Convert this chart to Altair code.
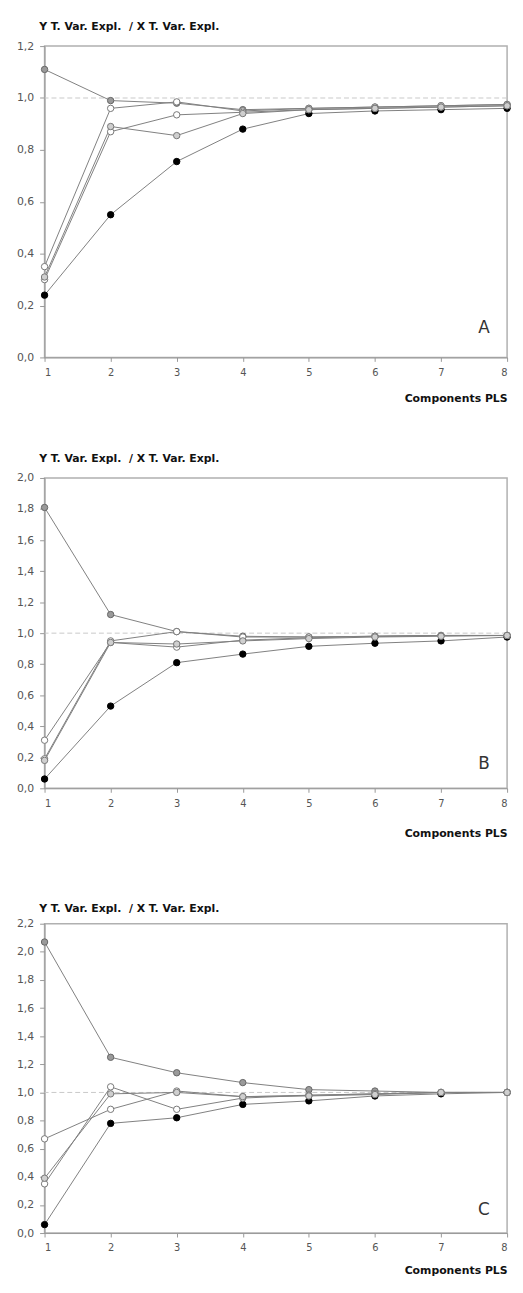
import altair as alt
import pandas as pd

comps = [1, 2, 3, 4, 5, 6, 7, 8]
series_names = ["s1", "s2", "s3", "s4", "s5"]

# Panel A
A_s1 = [0.24, 0.55, 0.755, 0.88, 0.94, 0.95, 0.955, 0.96]
A_s2 = [1.11, 0.99, 0.98, 0.955, 0.96, 0.965, 0.97, 0.975]
A_s3 = [0.35, 0.96, 0.985, 0.95, 0.96, 0.965, 0.97, 0.975]
A_s4 = [0.30, 0.87, 0.935, 0.945, 0.955, 0.96, 0.965, 0.97]
A_s5 = [0.31, 0.89, 0.855, 0.94, 0.955, 0.96, 0.965, 0.97]

# Panel B
B_s1 = [0.06, 0.53, 0.81, 0.865, 0.915, 0.935, 0.95, 0.975]
B_s2 = [1.81, 1.12, 1.01, 0.98, 0.975, 0.98, 0.985, 0.985]
B_s3 = [0.31, 0.94, 0.91, 0.955, 0.97, 0.98, 0.985, 0.985]
B_s4 = [0.19, 0.95, 1.01, 0.975, 0.975, 0.98, 0.985, 0.985]
B_s5 = [0.18, 0.94, 0.93, 0.95, 0.965, 0.975, 0.98, 0.985]

# Panel C
C_s1 = [0.06, 0.78, 0.82, 0.915, 0.94, 0.975, 0.99, 1.0]
C_s2 = [2.07, 1.25, 1.14, 1.07, 1.02, 1.01, 1.0, 1.0]
C_s3 = [0.67, 0.88, 1.01, 0.97, 0.98, 0.99, 1.0, 1.0]
C_s4 = [0.35, 1.04, 0.88, 0.96, 0.98, 0.99, 1.0, 1.0]
C_s5 = [0.39, 0.99, 1.0, 0.97, 0.975, 0.985, 1.0, 1.0]

fills = ["#000000", "#9a9a9a", "#ffffff", "#ffffff", "#cfcfcf"]
strokes = ["#000000", "#666666", "#777777", "#777777", "#777777"]

y_title = "Y T. Var. Expl.\u00a0 / X T. Var. Expl."
x_title = "Components PLS"
FONT = "DejaVu Sans"


def make_df(lists):
    rows = []
    for name, vals in zip(series_names, lists):
        for c, v in zip(comps, vals):
            rows.append({"comp": c, "val": v, "series": name})
    return pd.DataFrame(rows)


def panel(lists, ymax, height, letter, letter_y, title_y, x_title_pad):
    df = make_df(lists)
    nt = int(round(ymax / 0.2)) + 1
    yvals = [round(i * 0.2, 1) for i in range(nt)]
    xs = alt.X("comp:Q", scale=alt.Scale(domain=[1, 8], nice=False),
               axis=alt.Axis(values=comps, format="d", title=x_title, titleAnchor="end",
                             titleFont=FONT, titleFontSize=11, titleFontWeight="bold",
                             titleColor="#111", titlePadding=x_title_pad,
                             labelFont=FONT, labelFontSize=10, labelColor="#555",
                             labelPadding=6, grid=False, domainColor="#999",
                             tickColor="#999", tickSize=4, labelOverlap=False))
    ys = alt.Y("val:Q", scale=alt.Scale(domain=[0, ymax], nice=False, zero=True),
               axis=alt.Axis(values=yvals, title=y_title, titleAngle=0,
                             titleAlign="left", titleBaseline="middle",
                             titleX=-6, titleY=title_y,
                             titleFont=FONT, titleFontSize=11, titleFontWeight="bold",
                             titleColor="#111",
                             labelExpr="replace(format(datum.value, '.1f'), '.', ',')",
                             labelFont=FONT, labelFontSize=11, labelColor="#555",
                             labelPadding=6, grid=False, domainColor="#999",
                             tickColor="#999", tickSize=5, labelOverlap=False))
    base = alt.Chart(df)
    ref = alt.Chart(pd.DataFrame({"val": [1.0]})).mark_rule(
        color="#c8c8c8", strokeDash=[5, 3], strokeWidth=1).encode(y=ys)
    lines = base.mark_line(color="#808080", strokeWidth=1).encode(
        x=xs, y=ys, detail="series:N", order="comp:Q")
    pts = base.mark_point(filled=True, size=42, shape="circle", strokeWidth=1, opacity=1).encode(
        x=xs, y=ys,
        fill=alt.Fill("series:N", scale=alt.Scale(domain=series_names, range=fills), legend=None),
        stroke=alt.Stroke("series:N", scale=alt.Scale(domain=series_names, range=strokes), legend=None),
    )
    lab = alt.Chart(pd.DataFrame({"comp": [7.65], "val": [letter_y], "t": [letter]})).mark_text(
        font=FONT, fontSize=17, color="#333", align="center", baseline="middle").encode(
        x=xs, y=ys, text="t:N")
    return alt.layer(ref, lines, pts, lab).properties(width=468, height=height)


pA = panel([A_s1, A_s2, A_s3, A_s4, A_s5], 1.2, 315, "A", 0.115, -20, 16)
pB = panel([B_s1, B_s2, B_s3, B_s4, B_s5], 2.0, 314, "B", 0.155, -20, 20)
pC = panel([C_s1, C_s2, C_s3, C_s4, C_s5], 2.2, 313, "C", 0.165, -15, 12)

top = alt.vconcat(pA, pB, spacing=47)
chart = alt.vconcat(top, pC, spacing=63).properties(
    padding={"left": 7, "top": 4, "right": 2, "bottom": 0}
).configure_view(stroke="#b0b0b0", strokeWidth=1.5)

chart.save("out.html", embed_options={"renderer": "svg", "actions": False})
